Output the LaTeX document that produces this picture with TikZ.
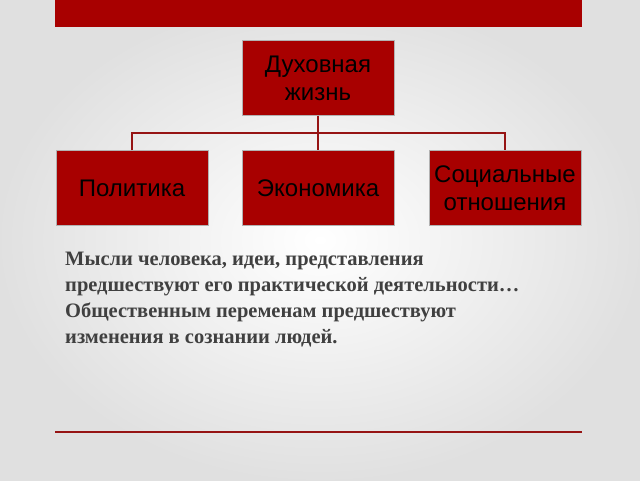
\documentclass[tikz,border=0pt]{standalone}
\usepackage{fontspec}
\setmainfont{Liberation Serif}
\setsansfont{Liberation Sans}
\usetikzlibrary{positioning}
\definecolor{colorbox}{RGB}{168,0,0}
\definecolor{colorline}{RGB}{150,20,20}
\definecolor{colortext}{RGB}{64,64,64}
\begin{document}
\begin{tikzpicture}[
    x=1pt, y=-1pt,
    base/.style={fill=colorbox,draw=white!70!black,minimum width=152pt,minimum height=75pt,
        text=black,font={\sffamily\fontsize{24}{28}\selectfont},align=center,inner sep=2pt},
    link/.style={draw=colorline,line width=1.2pt},
]
    \shade[inner color=white, outer color=black!12] (0,0) rectangle (640,480);
    \useasboundingbox (0,0) rectangle (640,480);

    \fill [colorbox] (55,0) rectangle (582,27);

    \node[base] at (318,78) (dukh) {Духовная\\жизнь};
    \node[base] at (132,188) (polit) {Политика};
    \node[base] at (318,188) (econ) {Экономика};
    \node[base] at (505,188) (soc) {Социальные\\отношения};

    \coordinate (hub) at (318,133);
    \draw[link] (dukh.south) -- (hub);
    \draw[link] (polit.north) |- (hub) -| (soc.north);
    \draw[link] (hub) -- (econ.north);

    \node[anchor=north west,text=colortext,align=left,inner sep=0pt,
        font={\bfseries\fontsize{20.5}{26}\selectfont}] at (65,252) (thought)
        {Мысли человека, идеи, представления\\предшествуют его практической деятельности…\\Общественным переменам предшествуют\\изменения в сознании людей.};

    \draw[link] (55,432) -- (582,432);
\end{tikzpicture}
\end{document}
